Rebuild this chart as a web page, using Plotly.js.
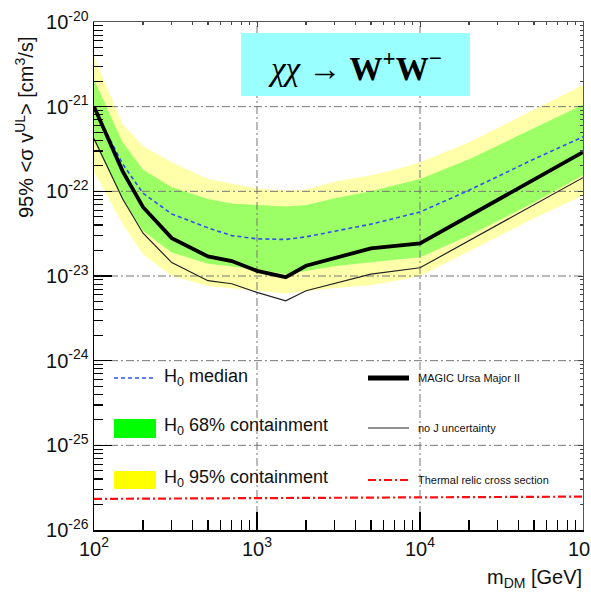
<!DOCTYPE html>
<html>
<head>
<meta charset="utf-8">
<script src="https://cdn.plot.ly/plotly-3.0.1.min.js"></script>
<style>html,body{margin:0;padding:0;background:#fff;}#chart{width:591px;height:595px;}</style>
</head>
<body>
<div id="chart"></div>
<script>
// ---- data ----
const limitMass = [100, 150, 200, 300, 500, 700, 1000, 1500, 2000, 5000, 10000, 100000];
const magicLimit = [1.0e-21, 1.72e-22, 6.5e-23, 2.8e-23, 1.7e-23, 1.5e-23, 1.15e-23, 9.7e-24, 1.32e-23, 2.12e-23, 2.43e-23, 2.9e-22];
const noJLimit = [4.2e-22, 8.1e-23, 3.2e-23, 1.44e-23, 8.8e-24, 8.1e-24, 6.4e-24, 5.1e-24, 6.7e-24, 1.05e-23, 1.25e-23, 1.45e-22];

const bandMass = [100, 150, 200, 300, 500, 700, 1000, 1500, 2000, 3000, 5000, 7000, 10000, 20000, 50000, 100000];
const medianH0 = [9.5e-22, 2.1e-22, 9.5e-23, 5.4e-23, 3.7e-23, 3.0e-23, 2.75e-23, 2.7e-23, 2.9e-23, 3.4e-23, 4.1e-23, 4.8e-23, 5.7e-23, 1.03e-22, 2.4e-22, 4.4e-22];
const green68High = [2.1e-21, 3.8e-22, 1.8e-22, 1.12e-22, 8.1e-23, 7.2e-23, 6.9e-23, 6.6e-23, 6.9e-23, 8.3e-23, 1.0e-22, 1.17e-22, 1.4e-22, 2.4e-22, 5.6e-22, 1.05e-21];
const green68Low = [3.9e-22, 8.1e-23, 3.4e-23, 1.9e-23, 1.4e-23, 1.3e-23, 1.2e-23, 1.05e-23, 1.14e-23, 1.3e-23, 1.45e-23, 1.55e-23, 1.66e-23, 3.0e-23, 7.4e-23, 1.55e-22];
const yellow95High = [3.9e-21, 6.2e-22, 3.4e-22, 2.2e-22, 1.4e-22, 1.23e-22, 1.08e-22, 1.02e-22, 1.05e-22, 1.3e-22, 1.55e-22, 1.8e-22, 2.2e-22, 3.8e-22, 9.1e-22, 1.8e-21];
const yellow95Low = [1.7e-22, 4.1e-23, 1.8e-23, 1.0e-23, 7.6e-24, 7.2e-24, 6.7e-24, 6.2e-24, 6.6e-24, 7.2e-24, 7.8e-24, 8.7e-24, 1.0e-23, 1.96e-23, 4.8e-23, 8.9e-23];

const thermalMass = [100, 1000, 10000, 100000];
const thermalRelic = [2.33e-26, 2.38e-26, 2.43e-26, 2.48e-26];

const xTickVals = [1e2, 1e3, 1e4, 1e5];
const xTickText = ['10<sup>2</sup>', '10<sup>3</sup>', '10<sup>4</sup>', '10<sup>5</sup>'];
const yTickVals = [1e-26, 1e-25, 1e-24, 1e-23, 1e-22, 1e-21, 1e-20];
const yTickText = ['10<sup>-26</sup>', '10<sup>-25</sup>', '10<sup>-24</sup>', '10<sup>-23</sup>', '10<sup>-22</sup>', '10<sup>-21</sup>', '10<sup>-20</sup>'];

const xRange = [100, 100000];
const yRange = [1e-26, 1e-20];
const xGridVals = [1e3, 1e4];
const yGridVals = [1e-25, 1e-24, 1e-23, 1e-22, 1e-21];

// minor tick positions (2..9 times each decade)
const minorOf = decades => decades.slice(0, -1).flatMap(d => [2,3,4,5,6,7,8,9].map(k => k * d));
const xMinor = minorOf(xTickVals);
const yMinor = minorOf(yTickVals);

// ---- layout geometry ----
const W = 591, H = 595;
const M = {l: 94, r: 8, t: 22, b: 65};
const PW = W - M.l - M.r, PH = H - M.t - M.b;
const PX = x => (x - M.l) / PW;
const PY = y => 1 - (y - M.t) / PH;

const gridDash = '8px,3px,2px,3px';
const traces = [];

// 95% band
traces.push({x: bandMass, y: yellow95Low, mode: 'lines', line: {width: 0}, hoverinfo: 'skip', showlegend: false});
traces.push({x: bandMass, y: yellow95High, mode: 'lines', line: {width: 0}, fill: 'tonexty', fillcolor: '#FFFFAA', hoverinfo: 'skip', showlegend: false});
// 68% band
traces.push({x: bandMass, y: green68Low, mode: 'lines', line: {width: 0}, hoverinfo: 'skip', showlegend: false});
traces.push({x: bandMass, y: green68High, mode: 'lines', line: {width: 0}, fill: 'tonexty', fillcolor: '#9CFF66', hoverinfo: 'skip', showlegend: false});

// grid lines drawn over bands
xGridVals.forEach(v => traces.push({x: [v, v], y: yRange, mode: 'lines', line: {color: '#777', width: 1, dash: gridDash}, hoverinfo: 'skip', showlegend: false}));
yGridVals.forEach(v => traces.push({x: xRange, y: [v, v], mode: 'lines', line: {color: '#777', width: 1, dash: gridDash}, hoverinfo: 'skip', showlegend: false}));

// lines
traces.push({x: bandMass, y: medianH0, mode: 'lines', line: {color: '#3050F0', width: 1.6, dash: '4px,3px'}, name: 'H0 median', showlegend: false});
traces.push({x: limitMass, y: noJLimit, mode: 'lines', line: {color: '#222', width: 1.2}, name: 'no J uncertainty', showlegend: false});
traces.push({x: limitMass, y: magicLimit, mode: 'lines', line: {color: '#000', width: 3.8}, name: 'MAGIC Ursa Major II', showlegend: false});
traces.push({x: thermalMass, y: thermalRelic, mode: 'lines', line: {color: '#FF1010', width: 2.2, dash: gridDash}, name: 'Thermal relic cross section', showlegend: false, xaxis: 'x2', yaxis: 'y2'});

const lg = Math.log10;
const tickFont = {family: 'Liberation Sans, Arial, sans-serif', size: 20, color: '#111'};

const shapes = [];
const annotations = [];

// title box
shapes.push({type: 'rect', xref: 'paper', yref: 'paper', x0: PX(241), x1: PX(470), y0: PY(96), y1: PY(33), fillcolor: '#99FFFF', line: {width: 0}, layer: 'above'});
annotations.push({xref: 'paper', yref: 'paper', x: PX(355), y: PY(66), xanchor: 'center', yanchor: 'middle', showarrow: false,
  text: '<i>χχ</i> → <b>W<sup>+</sup>W<sup>−</sup></b>', font: {family: 'Liberation Serif, Times New Roman, serif', size: 33, color: '#000'}});

// legend: left column
shapes.push({type: 'line', xref: 'paper', yref: 'paper', x0: PX(114), x1: PX(153), y0: PY(378), y1: PY(378), line: {color: '#3050F0', width: 1.6, dash: '4px,3px'}, layer: 'above'});
shapes.push({type: 'rect', xref: 'paper', yref: 'paper', x0: PX(114), x1: PX(156), y0: PY(438), y1: PY(419), fillcolor: '#00FF00', line: {width: 0}, layer: 'above'});
shapes.push({type: 'rect', xref: 'paper', yref: 'paper', x0: PX(114), x1: PX(156), y0: PY(489), y1: PY(471), fillcolor: '#FFFF00', line: {width: 0}, layer: 'above'});
const bigLeg = {family: 'Liberation Sans, Arial, sans-serif', size: 18, color: '#111'};
[['H<sub>0</sub> median', 377], ['H<sub>0</sub> 68% containment', 426], ['H<sub>0</sub> 95% containment', 478]].forEach(([t, y]) =>
  annotations.push({xref: 'paper', yref: 'paper', x: PX(162), y: PY(y), xanchor: 'left', yanchor: 'middle', showarrow: false, text: t, font: bigLeg}));

// legend: right column
shapes.push({type: 'line', xref: 'paper', yref: 'paper', x0: PX(368), x1: PX(409), y0: PY(378), y1: PY(378), line: {color: '#000', width: 5}, layer: 'above'});
shapes.push({type: 'line', xref: 'paper', yref: 'paper', x0: PX(368), x1: PX(409), y0: PY(428), y1: PY(428), line: {color: '#222', width: 1.2}, layer: 'above'});
shapes.push({type: 'line', xref: 'paper', yref: 'paper', x0: PX(368), x1: PX(409), y0: PY(480), y1: PY(480), line: {color: '#FF1010', width: 2.2, dash: gridDash}, layer: 'above'});
const smallLeg = {family: 'Liberation Sans, Arial, sans-serif', size: 11, color: '#111'};
[['MAGIC Ursa Major II', 378], ['no J uncertainty', 428], ['Thermal relic cross section', 480]].forEach(([t, y]) =>
  annotations.push({xref: 'paper', yref: 'paper', x: PX(416), y: PY(y), xanchor: 'left', yanchor: 'middle', showarrow: false, text: t, font: smallLeg}));

// axis titles
annotations.push({xref: 'paper', yref: 'paper', x: PX(25), y: PY(128), xanchor: 'center', yanchor: 'middle', textangle: -90, showarrow: false,
  text: '95% &lt;σ v<sup>UL</sup>&gt; [cm<sup>3</sup>/s]', font: {family: 'Liberation Sans, Arial, sans-serif', size: 20, color: '#111'}});
annotations.push({xref: 'paper', yref: 'paper', x: PX(584), y: PY(578), xanchor: 'right', yanchor: 'middle', showarrow: false,
  text: 'm<sub>DM</sub> [GeV]', font: {family: 'Liberation Sans, Arial, sans-serif', size: 20, color: '#111'}});

const minorStyle = (len, col, vals) => ({tickmode: 'array', tickvals: vals, ticks: 'inside', ticklen: len, tickwidth: 1.2, tickcolor: col, showgrid: false});

const layout = {
  width: W, height: H,
  margin: M,
  paper_bgcolor: '#fff', plot_bgcolor: '#fff',
  showlegend: false,
  xaxis: {type: 'log', range: [lg(xRange[0]), lg(xRange[1])], tickmode: 'array', tickvals: xTickVals, ticktext: xTickText,
    ticklabeloverflow: 'allow',
    showgrid: false, zeroline: false, showline: true, linecolor: '#000', linewidth: 1.5,
    ticks: 'inside', ticklen: 18, tickwidth: 1.2, tickcolor: '#000', tickfont: tickFont,
    minor: minorStyle(10, '#000', xMinor)},
  yaxis: {type: 'log', range: [lg(yRange[0]), lg(yRange[1])], tickmode: 'array', tickvals: yTickVals, ticktext: yTickText,
    ticklabeloverflow: 'allow',
    showgrid: false, zeroline: false, showline: true, linecolor: '#000', linewidth: 1.5,
    ticks: 'inside', ticklen: 18, tickwidth: 1.2, tickcolor: '#000', tickfont: tickFont,
    minor: minorStyle(9, '#000', yMinor)},
  xaxis2: {type: 'log', range: [lg(xRange[0]), lg(xRange[1])], tickmode: 'array', tickvals: xTickVals, overlaying: 'x', side: 'top', anchor: 'y2',
    showgrid: false, zeroline: false, showline: true, linecolor: '#555', linewidth: 1, showticklabels: false,
    ticks: 'inside', ticklen: 5, tickcolor: '#444',
    minor: minorStyle(3, '#444', xMinor)},
  yaxis2: {type: 'log', range: [lg(yRange[0]), lg(yRange[1])], tickmode: 'array', tickvals: yTickVals, overlaying: 'y', side: 'right', anchor: 'x2',
    showgrid: false, zeroline: false, showline: true, linecolor: '#555', linewidth: 1, showticklabels: false,
    ticks: 'inside', ticklen: 5, tickcolor: '#444',
    minor: minorStyle(3, '#444', yMinor)},
  shapes: shapes,
  annotations: annotations
};

Plotly.newPlot('chart', traces, layout, {staticPlot: true, displayModeBar: false});
</script>
</body>
</html>
